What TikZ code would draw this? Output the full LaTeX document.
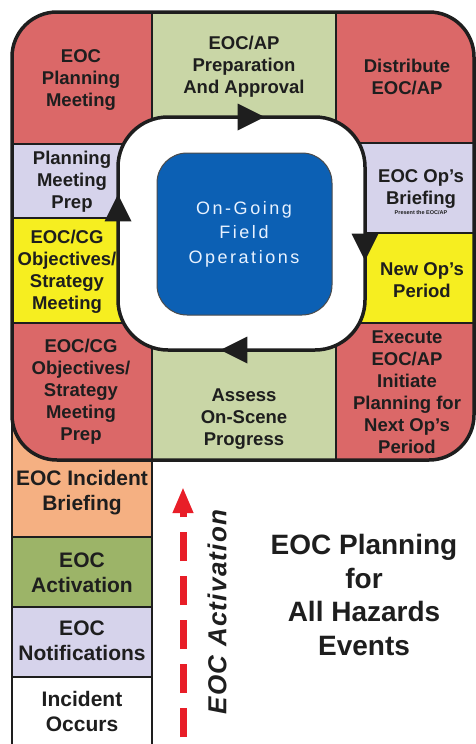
\documentclass[tikz,border=0pt]{standalone}
\usepackage{fontspec}
\setmainfont{Liberation Sans}
\usetikzlibrary{shapes.geometric}
\usetikzlibrary{arrows.meta}
\definecolor{cellred}{RGB}{219,104,104}
\definecolor{cellsage}{RGB}{201,214,166}
\definecolor{celllilac}{RGB}{214,211,235}
\definecolor{cellyellow}{RGB}{246,238,32}
\definecolor{cellorange}{RGB}{245,176,130}
\definecolor{cellolive}{RGB}{156,180,104}
\definecolor{opsblue}{RGB}{12,96,180}
\definecolor{opstext}{RGB}{232,242,255}
\definecolor{arrowred}{RGB}{232,30,40}
\definecolor{inkgray}{RGB}{30,30,30}

\begin{document}
\begin{tikzpicture}[x=1pt, y=-1pt]
        % ================= 样式定义 =================
        \tikzset{
            % 格子边框
            cellbox/.style={draw=inkgray, line width=2.5pt},
            % 循环格子文字
            celltext/.style={align=center, text=inkgray, font=\bfseries\fontsize{18.5}{22}\selectfont},
            % 左列文字
            coltext/.style={align=center, text=inkgray, font=\bfseries\fontsize{21}{25}\selectfont},
            % 环上的黑色三角箭头
            ringtip/.style={isosceles triangle, isosceles triangle stretches, fill=inkgray, inner sep=0pt, minimum width=27pt, minimum height=27pt},
            % 红色虚线箭头
            actarrow/.style={draw=arrowred, line width=7pt, dash pattern=on 29pt off 15pt, -{Triangle[length=26pt, width=19pt]}}
        }
        \useasboundingbox (0,0) rectangle (476,744);

        % ================= 左列 (启动阶段) =================
        \filldraw[cellbox, fill=cellorange] (12,400) rectangle (152,537);
        \filldraw[cellbox, fill=cellolive] (12,537) rectangle (152,607);
        \filldraw[cellbox, fill=celllilac] (12,607) rectangle (152,677);
        \filldraw[cellbox, fill=white] (12,677) rectangle (152,750);

        % ================= 循环格子 =================
        \begin{scope}
            \clip[rounded corners=45pt] (12,12) rectangle (474,460);
            \filldraw[cellbox, fill=cellred] (12,12) rectangle (152,144);
            \filldraw[cellbox, fill=cellsage] (152,12) rectangle (336,140);
            \filldraw[cellbox, fill=cellred] (336,12) rectangle (474,143);
            \filldraw[cellbox, fill=celllilac] (12,144) rectangle (140,218);
            \filldraw[cellbox, fill=cellyellow] (12,218) rectangle (140,323);
            \filldraw[cellbox, fill=cellred] (12,323) rectangle (152,460);
            \filldraw[cellbox, fill=cellsage] (152,330) rectangle (336,460);
            \filldraw[cellbox, fill=cellred] (336,323) rectangle (474,460);
            \filldraw[cellbox, fill=cellyellow] (345,233) rectangle (474,323);
            \filldraw[cellbox, fill=celllilac] (345,143) rectangle (474,233);
        \end{scope}

        % 1. 白色环
        \filldraw[draw=inkgray, line width=3.5pt, fill=white, rounded corners=50pt] (118,117) rectangle (365,350);
        % 2. 中间蓝色方块
        \filldraw[draw=inkgray!80, line width=1pt, fill=opsblue, rounded corners=30pt] (157,153) rectangle (332,315);
        % 3. 外框
        \draw[draw=inkgray, line width=3.5pt, rounded corners=45pt] (12,12) rectangle (474,460);

        % ================= 环上箭头 =================
        \node[ringtip, shape border rotate=0] (tipN) at (246,117) {};
        \node[ringtip, shape border rotate=-90] (tipE) at (365,242) {};
        \node[ringtip, shape border rotate=180] (tipS) at (239,350) {};
        \node[ringtip, shape border rotate=90] (tipW) at (118,213) {};

        % ================= 文字 =================
        \node[celltext] (plan) at (81,80) {EOC\\Planning\\Meeting};
        \node[celltext] (prep) at (244,67) {EOC/AP\\Preparation\\And Approval};
        \node[celltext] (dist) at (407,77) {Distribute\\EOC/AP};
        \node[celltext] (pmp) at (72,182) {Planning\\Meeting\\Prep};
        \node[celltext] (cgmeet) at (67,272) {EOC/CG\\Objectives/\\Strategy\\Meeting};
        \node[celltext] (cgprep) at (81,392) {EOC/CG\\Objectives/\\Strategy\\Meeting\\Prep};
        \node[celltext] (assess) at (244,419) {Assess\\On-Scene\\Progress};
        \node[celltext] (exec) at (407,392) {Execute\\EOC/AP\\Initiate\\Planning for\\Next Op’s\\Period};
        \node[celltext] (newop) at (422,280) {New Op’s\\Period};
        \node[celltext] (brief) at (421,192) {EOC Op’s\\Briefing\\[-12pt]{\fontsize{5.5}{7}\selectfont Present the EOC/AP}};

        \node[align=center, text=opstext, font=\fontsize{18}{24.5}\selectfont\addfontfeature{LetterSpace=14}] (ops) at (244,234) {On-Going\\Field\\Operations};

        \node[coltext] (incbrief) at (82,493) {EOC Incident\\Briefing};
        \node[coltext] (activ) at (82,573) {EOC\\Activation};
        \node[coltext] (notif) at (82,641) {EOC\\Notifications};
        \node[coltext] (occurs) at (82,711) {Incident\\Occurs};

        \node[align=center, text=inkgray, font=\bfseries\fontsize{28}{33.5}\selectfont] (title) at (364,595) {EOC Planning\\for\\All Hazards\\Events};

        % ================= 启动箭头 =================
        \coordinate (actbot) at (183,737);
        \coordinate (acttop) at (183,487);
        \draw[actarrow] (actbot) -- (acttop);
        \node[rotate=90, text=inkgray, font=\bfseries\itshape\fontsize{26}{30}\selectfont\addfontfeature{LetterSpace=5}] (actlabel) at (217,612) {EOC Activation};

    \end{tikzpicture}
\end{document}
